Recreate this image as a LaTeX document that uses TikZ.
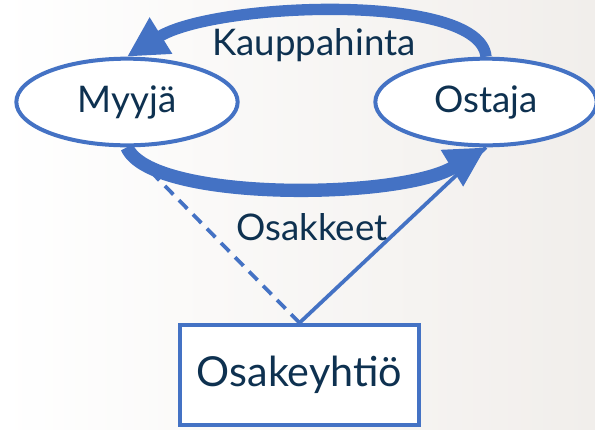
\documentclass[tikz,border=0pt]{standalone}
\usepackage{fontspec}
\setmainfont{Lato}
\usetikzlibrary{shapes.geometric,arrows.meta}
\definecolor{accent}{HTML}{4472C4}
\definecolor{ink}{HTML}{0E3150}
\definecolor{paper}{HTML}{F1EEEB}
\tikzset{
  party/.style={ellipse, draw=accent, line width=3pt, fill=white,
    minimum width=166pt, minimum height=65pt, inner sep=0pt,
    text=ink, font=\fontsize{27.5}{32}\selectfont},
  company/.style={rectangle, draw=accent, line width=3.2pt, fill=white,
    minimum width=179pt, minimum height=75pt, inner sep=0pt,
    text=ink, font=\fontsize{31}{36}\selectfont},
  flowlabel/.style={text=ink, font=\fontsize{27.5}{32}\selectfont, inner sep=0pt},
  bigflow/.style={draw=accent, line cap=butt,
    -{Triangle[length=30pt,width=30pt]}},
  link/.style={draw=accent, line width=2.8pt}
}
\begin{document}
\begin{tikzpicture}[x=0.75pt,y=-0.75pt]
  % canvas with a faint warm tint towards the right
  \useasboundingbox (0,0) rectangle (595,429);
  \shade[left color=white, middle color=white, right color=paper] (0,0) rectangle (595,429);

  % the parties
  \node[party]   (seller)  at (127,102) {Myyjä};
  \node[party]   (buyer)   at (486,102) {Ostaja};
  \node[company] (firm)    at (299.5,375) {Osakeyhtiö};

  % share link: ownership shown dashed, transfer solid
  \draw[link, dash pattern=on 9pt off 6pt] (firm.north) -- (seller.south);
  \draw[link] (firm.north) -- (buyer.south);

  % money and shares changing hands
  \draw[bigflow, line width=8.5pt] (buyer.north) .. controls (480,-8) and (215,2) .. (seller.north);
  \draw[bigflow, line width=10pt] (seller.south) .. controls (150,202) and (400,200) .. (buyer.south);

  \node[flowlabel] (price)  at (314,45)  {Kauppahinta};
  \node[flowlabel] (shares) at (312,227) {Osakkeet};
\end{tikzpicture}
\end{document}
